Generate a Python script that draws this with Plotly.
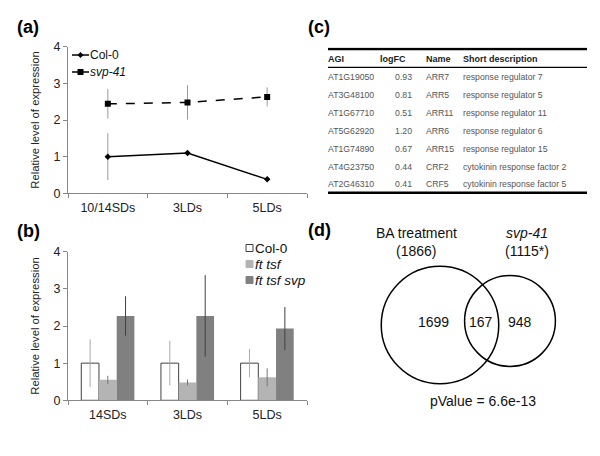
import plotly.graph_objects as go

W, H = 600, 456
FONT = "Liberation Sans, Arial, sans-serif"

# ---------------- data ----------------
# panel (a)
a_cats = ["10/14SDs", "3LDs", "5LDs"]
a_col0 = [1.0, 1.1, 0.38]
a_col0_err = [0.64, 0.0, 0.0]
a_svp = [2.44, 2.48, 2.63]
a_svp_err = [0.40, 0.47, 0.26]

# panel (b)
b_cats = ["14SDs", "3LDs", "5LDs"]
b_col0 = [1.0, 1.0, 1.0]
b_col0_err = [0.64, 0.60, 0.38]
b_fttsf = [0.55, 0.48, 0.62]
b_fttsf_err = [0.11, 0.08, 0.24]
b_fttsfsvp = [2.27, 2.27, 1.93]
b_fttsfsvp_err = [0.53, 1.10, 0.58]

# panel (c)
c_headers = ["AGI", "logFC", "Name", "Short description"]
c_agi = ["AT1G19050", "AT3G48100", "AT1G67710", "AT5G62920", "AT1G74890", "AT4G23750", "AT2G46310"]
c_logfc = ["0.93", "0.81", "0.51", "1.20", "0.67", "0.44", "0.41"]
c_name = ["ARR7", "ARR5", "ARR11", "ARR6", "ARR15", "CRF2", "CRF5"]
c_desc = ["response regulator 7", "response regulator 5", "response regulator 11",
          "response regulator 6", "response regulator 15",
          "cytokinin response factor 2", "cytokinin response factor 5"]

# panel (d)
d_ba_total = 1866
d_svp_total = 1115
d_overlap = 167
d_pvalue = "6.6e-13"


def px(x):
    return x / W


def py(y):
    return 1 - y / H


fig = go.Figure()

# ---------- (a) line chart ----------
fig.add_trace(go.Scatter(
    x=a_cats, y=a_col0, mode="lines+markers", name="Col-0",
    line=dict(color="black", width=1.5),
    marker=dict(symbol="diamond", size=5, color="black"),
    error_y=dict(type="data", array=a_col0_err, color="#999999", thickness=1, width=0),
    xaxis="x", yaxis="y", showlegend=False))
fig.add_trace(go.Scatter(
    x=a_cats, y=a_svp, mode="lines+markers", name="svp-41",
    line=dict(color="black", width=1.5, dash="dash"),
    marker=dict(symbol="square", size=6, color="black"),
    error_y=dict(type="data", array=a_svp_err, color="#999999", thickness=1, width=0),
    xaxis="x", yaxis="y", showlegend=False))

# ---------- (b) bar chart ----------
fig.add_trace(go.Bar(
    x=b_cats, y=b_col0, name="Col-0",
    marker=dict(color="white", line=dict(color="#404040", width=1)),
    error_y=dict(type="data", array=b_col0_err, color="#aaaaaa", thickness=1, width=0),
    xaxis="x2", yaxis="y2", showlegend=False))
fig.add_trace(go.Bar(
    x=b_cats, y=b_fttsf, name="ft tsf",
    marker=dict(color="#b4b4b4", line=dict(color="#b4b4b4", width=0)),
    error_y=dict(type="data", array=b_fttsf_err, color="#777777", thickness=1, width=0),
    xaxis="x2", yaxis="y2", showlegend=False))
fig.add_trace(go.Bar(
    x=b_cats, y=b_fttsfsvp, name="ft tsf svp",
    marker=dict(color="#808080", line=dict(color="#808080", width=0)),
    error_y=dict(type="data", array=b_fttsfsvp_err, color="#404040", thickness=1, width=0),
    xaxis="x2", yaxis="y2", showlegend=False))

# ---------- (c) table as text on a hidden axis ----------
n_rows = len(c_agi)
rows = list(range(1, n_rows + 1))
col_agi_x, col_fc_x, col_name_x, col_desc_x = 0, 84, 98, 135
txt_font = dict(family=FONT, size=8.7, color="#555555")
fig.add_trace(go.Scatter(x=[col_agi_x] * n_rows, y=rows, text=c_agi, mode="text",
                         textposition="middle right", textfont=txt_font,
                         xaxis="x3", yaxis="y3", showlegend=False, hoverinfo="skip"))
fig.add_trace(go.Scatter(x=[col_fc_x] * n_rows, y=rows, text=c_logfc, mode="text",
                         textposition="middle left", textfont=txt_font,
                         xaxis="x3", yaxis="y3", showlegend=False, hoverinfo="skip"))
fig.add_trace(go.Scatter(x=[col_name_x] * n_rows, y=rows, text=c_name, mode="text",
                         textposition="middle right", textfont=txt_font,
                         xaxis="x3", yaxis="y3", showlegend=False, hoverinfo="skip"))
fig.add_trace(go.Scatter(x=[col_desc_x] * n_rows, y=rows, text=c_desc, mode="text",
                         textposition="middle right", textfont=txt_font,
                         xaxis="x3", yaxis="y3", showlegend=False, hoverinfo="skip"))
fig.add_trace(go.Scatter(x=[col_agi_x, 52, col_name_x, col_desc_x], y=[0] * 4, text=c_headers,
                         mode="text", textposition="middle right",
                         textfont=dict(family=FONT, size=9, color="#222222"),
                         texttemplate="<b>%{text}</b>",
                         xaxis="x3", yaxis="y3", showlegend=False, hoverinfo="skip"))

shapes = []
# table rules
for yv, wdt in [(-0.62, 2.5), (0.41, 1.2), (n_rows + 0.42, 2.5)]:
    shapes.append(dict(type="line", xref="x3", yref="y3", x0=0, x1=259, y0=yv, y1=yv,
                       line=dict(color="black", width=wdt)))

# ---------- (d) Venn ----------
k = 1.36
r_ba = k * d_ba_total ** 0.5
r_svp = k * d_svp_total ** 0.5
c_ba = (70, 70)
c_svp = (140, 74)
for (cx, cy), r in [(c_ba, r_ba), (c_svp, r_svp)]:
    shapes.append(dict(type="circle", xref="x4", yref="y4",
                       x0=cx - r, x1=cx + r, y0=cy - r, y1=cy + r,
                       line=dict(color="black", width=1.5)))

annotations = []
venn_font = dict(family=FONT, size=14, color="#111111")
C = dict(xanchor="center", yanchor="middle", showarrow=False)
annotations += [
    dict(x=63, y=73.5, xref="x4", yref="y4", text=str(d_ba_total - d_overlap), font=venn_font, **C),
    dict(x=111, y=73.5, xref="x4", yref="y4", text=str(d_overlap), font=venn_font, **C),
    dict(x=150, y=73.5, xref="x4", yref="y4", text=str(d_svp_total - d_overlap), font=venn_font, **C),
    dict(x=px(416), y=py(233), xref="paper", yref="paper", text="BA treatment", font=venn_font, **C),
    dict(x=px(416), y=py(251), xref="paper", yref="paper", text=f"({d_ba_total})", font=venn_font, **C),
    dict(x=px(527), y=py(233), xref="paper", yref="paper", text="<i>svp-41</i>", font=venn_font, **C),
    dict(x=px(527), y=py(251), xref="paper", yref="paper", text=f"({d_svp_total}*)", font=venn_font, **C),
    dict(x=px(483), y=py(401), xref="paper", yref="paper", text=f"pValue = {d_pvalue}", font=venn_font, **C),
]

L = dict(xanchor="left", yanchor="middle", showarrow=False)
# panel labels
lab_font = dict(family=FONT, size=18, color="black")
for t, x, y in [("(a)", 15, 27), ("(b)", 15, 231), ("(c)", 306, 27), ("(d)", 306, 230)]:
    annotations.append(dict(x=px(x), y=py(y), xref="paper", yref="paper",
                            text=f"<b>{t}</b>", font=lab_font, **L))

# ---------- manual legends ----------
# (a)
leg_font_a = dict(family=FONT, size=12, color="#111111")
for i, (lab, sym) in enumerate([("Col-0", "diamond"), ("<i>svp-41</i>", "square")]):
    yy = 55 + 17 * i
    shapes.append(dict(type="line", xref="paper", yref="paper", x0=px(72), x1=px(89),
                       y0=py(yy), y1=py(yy), line=dict(color="black", width=1.5)))
    if sym == "diamond":
        shapes.append(dict(type="path", xref="paper", yref="paper",
                           path=f"M {px(80.5)} {py(yy-3)} L {px(83.5)} {py(yy)} L {px(80.5)} {py(yy+3)} L {px(77.5)} {py(yy)} Z",
                           fillcolor="black", line=dict(width=0)))
    else:
        shapes.append(dict(type="rect", xref="paper", yref="paper", x0=px(77.5), x1=px(83.5),
                           y0=py(yy + 3), y1=py(yy - 3), fillcolor="black", line=dict(width=0)))
    annotations.append(dict(x=px(88), y=py(yy), xref="paper", yref="paper",
                            text=lab, font=leg_font_a, **L))
# (b)
leg_font_b = dict(family=FONT, size=13.5, color="#111111")
for i, (lab, fc, lc) in enumerate([("Col-0", "white", "#404040"),
                                    ("<i>ft tsf</i>", "#b4b4b4", "#b4b4b4"),
                                    ("<i>ft tsf svp</i>", "#808080", "#808080")]):
    yy = 248 + 16 * i
    shapes.append(dict(type="rect", xref="paper", yref="paper", x0=px(246), x1=px(253),
                       y0=py(yy + 3.5), y1=py(yy - 3.5), fillcolor=fc, line=dict(color=lc, width=1)))
    annotations.append(dict(x=px(253), y=py(yy), xref="paper", yref="paper",
                            text=lab, font=leg_font_b, **L))

axis_common = dict(showline=True, linecolor="#888888", linewidth=1, ticks="outside",
                   ticklen=4, tickcolor="#888888", showgrid=False, zeroline=False,
                   automargin=False,
                   tickfont=dict(family=FONT, size=12.5, color="#222222"))
ytitle = dict(text="Relative level of expression", font=dict(family=FONT, size=11.3, color="#222222"), standoff=11)

fig.update_layout(
    width=W, height=H, margin=dict(l=0, r=0, t=0, b=0, autoexpand=False),
    paper_bgcolor="white", plot_bgcolor="rgba(0,0,0,0)",
    font=dict(family=FONT),
    barmode="group", bargap=1 / 3, bargroupgap=0,
    xaxis=dict(domain=[px(68), px(307)], anchor="y", type="category", range=[-0.5, 2.5],
               tickson="boundaries", ticklabelstandoff=3, **axis_common),
    yaxis=dict(domain=[py(193.3), py(46.7)], anchor="x", range=[0, 4], dtick=1,
               title=ytitle, **axis_common),
    xaxis2=dict(domain=[px(68), px(307)], anchor="y2", type="category", range=[-0.5, 2.5],
                tickson="boundaries", ticklabelstandoff=3, **axis_common),
    yaxis2=dict(domain=[py(400.3), py(251.7)], anchor="x2", range=[0, 4], dtick=1,
                title=ytitle, **axis_common),
    xaxis3=dict(domain=[px(328), px(587)], anchor="y3", range=[0, 259], visible=False),
    yaxis3=dict(domain=[py(194.25), py(47.47)], anchor="x3", range=[n_rows + 0.5, -0.7], visible=False),
    xaxis4=dict(domain=[px(370), px(570)], anchor="y4", range=[0, 200], visible=False),
    yaxis4=dict(domain=[py(395), py(255)], anchor="x4", range=[0, 140], visible=False),
    shapes=shapes, annotations=annotations,
)

fig.write_html("out.html", config={"displayModeBar": False},
               post_script="document.body.style.margin='0';")
